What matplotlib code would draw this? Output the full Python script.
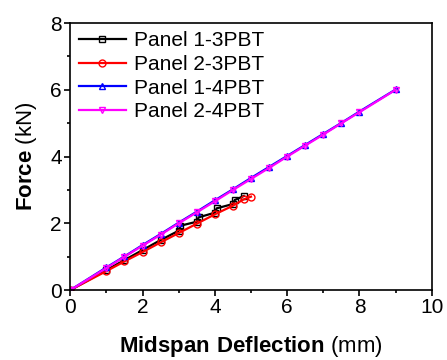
import matplotlib.pyplot as plt
from matplotlib.ticker import MultipleLocator

plt.rcParams['font.family'] = ['Liberation Sans', 'DejaVu Sans']
plt.rcParams['mathtext.fontset'] = 'custom'
plt.rcParams['mathtext.rm'] = 'Liberation Sans'
plt.rcParams['mathtext.bf'] = 'Liberation Sans:bold'

# Panel 1-3PBT (load drops/steps near the end)
x13 = [0, 1.0, 1.5, 2.0, 2.5, 3.0, 3.05, 3.5, 3.55, 4.0, 4.05, 4.5, 4.55, 4.8]
y13 = [0, 0.60, 0.90, 1.20, 1.50, 1.78, 1.93, 2.05, 2.18, 2.32, 2.45, 2.58, 2.70, 2.82]

# Panel 2-3PBT
x23 = [0, 1.0, 1.5, 2.0, 2.5, 3.0, 3.5, 4.0, 4.5, 4.8, 5.0]
y23 = [0, 0.57, 0.86, 1.14, 1.43, 1.71, 1.99, 2.27, 2.53, 2.72, 2.80]

# Panel 1-4PBT
x14 = [0, 1.0, 1.5, 2.0, 2.5, 3.0, 3.5, 4.0, 4.5, 5.0, 5.5, 6.0, 6.5, 7.0, 7.5, 8.0, 9.0]
y14 = [0, 0.68, 1.01, 1.35, 1.68, 2.02, 2.35, 2.69, 3.02, 3.36, 3.69, 4.02, 4.35, 4.68, 5.01, 5.35, 6.01]

# Panel 2-4PBT
x24 = [0, 1.0, 1.5, 2.0, 2.5, 3.0, 3.5, 4.0, 4.5, 5.0, 5.5, 6.0, 6.5, 7.0, 7.5, 8.0, 9.0]
y24 = [0, 0.66, 1.00, 1.33, 1.66, 2.00, 2.33, 2.66, 3.00, 3.33, 3.66, 4.00, 4.33, 4.66, 5.00, 5.33, 6.00]

fig = plt.figure(figsize=(4.47, 3.6), dpi=100)
ax = fig.add_axes([0.157, 0.194, 0.809, 0.742])

ax.plot(x13, y13, color='black', marker='s', mfc='none', ms=5, lw=1.6, label='Panel 1-3PBT')
ax.plot(x23, y23, color='red', marker='o', mfc='none', ms=5, lw=1.6, label='Panel 2-3PBT')
ax.plot(x14, y14, color='blue', marker='^', mfc='none', ms=5, lw=1.6, label='Panel 1-4PBT')
ax.plot(x24, y24, color='magenta', marker='v', mfc='none', ms=5, lw=1.6, label='Panel 2-4PBT')

ax.set_xlim(0, 10)
ax.set_ylim(0, 8)
ax.xaxis.set_major_locator(MultipleLocator(2))
ax.xaxis.set_minor_locator(MultipleLocator(1))
ax.yaxis.set_major_locator(MultipleLocator(2))
ax.yaxis.set_minor_locator(MultipleLocator(1))
ax.tick_params(which='both', direction='out', labelsize=15, width=1.2, pad=2)
ax.tick_params(which='major', length=4)
ax.tick_params(which='minor', length=2.5)
for s in ax.spines.values():
    s.set_linewidth(1.2)

ax.set_xlabel(r'$\bf{Midspan\ Deflection}$ (mm)', fontsize=16, labelpad=12)
ax.set_ylabel(r'$\bf{Force}$ (kN)', fontsize=16, labelpad=8)

ax.legend(loc='upper left', frameon=False, fontsize=15, handlelength=2.3,
          handletextpad=0.35, labelspacing=0.22, borderaxespad=0.2,
          borderpad=0.2)

fig.savefig('out.png', dpi=100)
